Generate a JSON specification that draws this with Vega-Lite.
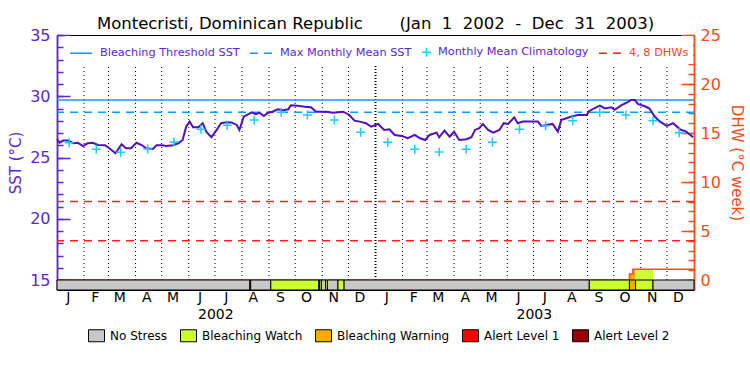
{
  "$schema": "https://vega.github.io/schema/vega-lite/v6.json",
  "width": 637,
  "height": 255,
  "autosize": {"type": "none"},
  "padding": {"left": 57, "top": 35, "right": 56, "bottom": 85},
  "background": "white",
  "title": {"text": "Montecristi, Dominican Republic\u00a0\u00a0\u00a0\u00a0\u00a0\u00a0\u00a0(Jan\u00a0\u00a01\u00a0\u00a02002\u00a0\u00a0-\u00a0\u00a0Dec\u00a0\u00a031\u00a0\u00a02003)", "font": "DejaVu Sans", "fontSize": 16.5, "fontWeight": "normal", "color": "black", "anchor": "middle", "offset": -5},
  "config": {
    "view": {"stroke": "black", "strokeWidth": 1},
    "axis": {"labelFont": "DejaVu Sans", "titleFont": "DejaVu Sans", "grid": false, "labelFlush": false, "labelOverlap": false}
  },
  "datasets": {
    "sst": [
      {"date": "2002-01-01", "sst": 26.49}, {"date": "2002-01-04", "sst": 26.21}, {"date": "2002-01-08", "sst": 26.38}, {"date": "2002-01-14", "sst": 26.38},
      {"date": "2002-01-20", "sst": 26.16}, {"date": "2002-01-25", "sst": 26.2}, {"date": "2002-01-31", "sst": 25.94}, {"date": "2002-02-05", "sst": 26.16},
      {"date": "2002-02-11", "sst": 26.2}, {"date": "2002-02-17", "sst": 26.02}, {"date": "2002-02-25", "sst": 26.0}, {"date": "2002-03-02", "sst": 25.76},
      {"date": "2002-03-09", "sst": 25.35}, {"date": "2002-03-16", "sst": 26.08}, {"date": "2002-03-21", "sst": 25.76}, {"date": "2002-03-27", "sst": 25.76},
      {"date": "2002-04-02", "sst": 26.2}, {"date": "2002-04-08", "sst": 26.02}, {"date": "2002-04-13", "sst": 25.76}, {"date": "2002-04-21", "sst": 25.7},
      {"date": "2002-04-25", "sst": 26.0}, {"date": "2002-05-02", "sst": 26.0}, {"date": "2002-05-06", "sst": 25.94}, {"date": "2002-05-14", "sst": 26.0},
      {"date": "2002-05-20", "sst": 26.16}, {"date": "2002-05-25", "sst": 26.43}, {"date": "2002-05-29", "sst": 27.52}, {"date": "2002-06-02", "sst": 27.93},
      {"date": "2002-06-06", "sst": 27.47}, {"date": "2002-06-12", "sst": 27.47}, {"date": "2002-06-17", "sst": 27.8}, {"date": "2002-06-21", "sst": 27.11},
      {"date": "2002-06-27", "sst": 26.65}, {"date": "2002-07-03", "sst": 27.25}, {"date": "2002-07-08", "sst": 27.8}, {"date": "2002-07-14", "sst": 27.88},
      {"date": "2002-07-20", "sst": 27.86}, {"date": "2002-07-26", "sst": 27.66}, {"date": "2002-07-29", "sst": 27.25}, {"date": "2002-08-03", "sst": 28.34},
      {"date": "2002-08-08", "sst": 28.53}, {"date": "2002-08-12", "sst": 28.69}, {"date": "2002-08-17", "sst": 28.53}, {"date": "2002-08-21", "sst": 28.66},
      {"date": "2002-08-26", "sst": 28.39}, {"date": "2002-08-31", "sst": 28.66}, {"date": "2002-09-05", "sst": 28.74}, {"date": "2002-09-11", "sst": 28.94},
      {"date": "2002-09-17", "sst": 28.85}, {"date": "2002-09-23", "sst": 28.94}, {"date": "2002-09-26", "sst": 29.27}, {"date": "2002-10-04", "sst": 29.22},
      {"date": "2002-10-12", "sst": 29.15}, {"date": "2002-10-19", "sst": 29.1}, {"date": "2002-10-25", "sst": 28.74}, {"date": "2002-11-06", "sst": 28.74},
      {"date": "2002-11-13", "sst": 28.66}, {"date": "2002-11-25", "sst": 28.74}, {"date": "2002-12-02", "sst": 28.47}, {"date": "2002-12-08", "sst": 28.01},
      {"date": "2002-12-14", "sst": 27.93}, {"date": "2002-12-21", "sst": 27.8}, {"date": "2002-12-27", "sst": 27.52}, {"date": "2003-01-04", "sst": 27.74},
      {"date": "2003-01-11", "sst": 27.25}, {"date": "2003-01-17", "sst": 27.3}, {"date": "2003-01-23", "sst": 26.84}, {"date": "2003-01-31", "sst": 26.76},
      {"date": "2003-02-07", "sst": 26.57}, {"date": "2003-02-15", "sst": 26.84}, {"date": "2003-02-21", "sst": 26.57}, {"date": "2003-02-27", "sst": 26.43},
      {"date": "2003-03-04", "sst": 26.84}, {"date": "2003-03-12", "sst": 27.03}, {"date": "2003-03-15", "sst": 26.65}, {"date": "2003-03-21", "sst": 27.2},
      {"date": "2003-03-27", "sst": 26.7}, {"date": "2003-04-01", "sst": 27.1}, {"date": "2003-04-07", "sst": 26.43}, {"date": "2003-04-15", "sst": 26.49},
      {"date": "2003-04-21", "sst": 26.65}, {"date": "2003-04-25", "sst": 27.25}, {"date": "2003-04-30", "sst": 27.39}, {"date": "2003-05-04", "sst": 27.74},
      {"date": "2003-05-10", "sst": 27.25}, {"date": "2003-05-16", "sst": 27.03}, {"date": "2003-05-23", "sst": 27.25}, {"date": "2003-05-28", "sst": 27.8},
      {"date": "2003-06-02", "sst": 27.74}, {"date": "2003-06-09", "sst": 28.28}, {"date": "2003-06-13", "sst": 27.8}, {"date": "2003-06-19", "sst": 27.93},
      {"date": "2003-06-27", "sst": 27.93}, {"date": "2003-07-06", "sst": 27.93}, {"date": "2003-07-10", "sst": 27.58}, {"date": "2003-07-16", "sst": 27.66},
      {"date": "2003-07-23", "sst": 27.74}, {"date": "2003-07-29", "sst": 27.11}, {"date": "2003-08-02", "sst": 28.07}, {"date": "2003-08-08", "sst": 28.2},
      {"date": "2003-08-13", "sst": 28.34}, {"date": "2003-08-21", "sst": 28.47}, {"date": "2003-08-31", "sst": 28.47}, {"date": "2003-09-03", "sst": 28.8},
      {"date": "2003-09-15", "sst": 29.23}, {"date": "2003-09-21", "sst": 29.0}, {"date": "2003-09-28", "sst": 29.1}, {"date": "2003-10-02", "sst": 28.9},
      {"date": "2003-10-10", "sst": 29.27}, {"date": "2003-10-16", "sst": 29.48}, {"date": "2003-10-21", "sst": 29.7}, {"date": "2003-10-25", "sst": 29.7},
      {"date": "2003-10-29", "sst": 29.35}, {"date": "2003-11-05", "sst": 29.2}, {"date": "2003-11-11", "sst": 29.0}, {"date": "2003-11-17", "sst": 28.34},
      {"date": "2003-11-23", "sst": 27.93}, {"date": "2003-12-01", "sst": 27.58}, {"date": "2003-12-08", "sst": 27.8}, {"date": "2003-12-16", "sst": 27.3},
      {"date": "2003-12-23", "sst": 27.11}, {"date": "2003-12-31", "sst": 26.65}
    ],
    "clim": [
      {"date": "2002-01-15", "sst": 26.21}, {"date": "2002-02-15", "sst": 25.67}, {"date": "2002-03-15", "sst": 25.43}, {"date": "2002-04-15", "sst": 25.7},
      {"date": "2002-05-15", "sst": 26.27}, {"date": "2002-06-15", "sst": 27.3}, {"date": "2002-07-15", "sst": 27.63}, {"date": "2002-08-15", "sst": 28.07},
      {"date": "2002-09-15", "sst": 28.69}, {"date": "2002-10-15", "sst": 28.47}, {"date": "2002-11-15", "sst": 28.07}, {"date": "2002-12-15", "sst": 27.06},
      {"date": "2003-01-15", "sst": 26.24}, {"date": "2003-02-15", "sst": 25.67}, {"date": "2003-03-15", "sst": 25.45}, {"date": "2003-04-15", "sst": 25.67},
      {"date": "2003-05-15", "sst": 26.24}, {"date": "2003-06-15", "sst": 27.31}, {"date": "2003-07-15", "sst": 27.6}, {"date": "2003-08-15", "sst": 28.01},
      {"date": "2003-09-15", "sst": 28.69}, {"date": "2003-10-15", "sst": 28.47}, {"date": "2003-11-15", "sst": 28.01}, {"date": "2003-12-15", "sst": 27.03}
    ],
    "months": [
      {"date": "2002-02-01", "kind": "month"}, {"date": "2002-03-01", "kind": "month"}, {"date": "2002-04-01", "kind": "month"}, {"date": "2002-05-01", "kind": "month"},
      {"date": "2002-06-01", "kind": "month"}, {"date": "2002-07-01", "kind": "month"}, {"date": "2002-08-01", "kind": "month"}, {"date": "2002-09-01", "kind": "month"},
      {"date": "2002-10-01", "kind": "month"}, {"date": "2002-11-01", "kind": "month"}, {"date": "2002-12-01", "kind": "month"}, {"date": "2003-01-01", "kind": "year"},
      {"date": "2003-02-01", "kind": "month"}, {"date": "2003-03-01", "kind": "month"}, {"date": "2003-04-01", "kind": "month"}, {"date": "2003-05-01", "kind": "month"},
      {"date": "2003-06-01", "kind": "month"}, {"date": "2003-07-01", "kind": "month"}, {"date": "2003-08-01", "kind": "month"}, {"date": "2003-09-01", "kind": "month"},
      {"date": "2003-10-01", "kind": "month"}, {"date": "2003-11-01", "kind": "month"}, {"date": "2003-12-01", "kind": "month"}
    ],
    "monthlabels": [
      {"date": "2002-01-14", "m": "J"}, {"date": "2002-02-14", "m": "F"}, {"date": "2002-03-14", "m": "M"}, {"date": "2002-04-14", "m": "A"},
      {"date": "2002-05-14", "m": "M"}, {"date": "2002-06-14", "m": "J"}, {"date": "2002-07-14", "m": "J"}, {"date": "2002-08-14", "m": "A"},
      {"date": "2002-09-14", "m": "S"}, {"date": "2002-10-14", "m": "O"}, {"date": "2002-11-14", "m": "N"}, {"date": "2002-12-14", "m": "D"},
      {"date": "2003-01-14", "m": "J"}, {"date": "2003-02-14", "m": "F"}, {"date": "2003-03-14", "m": "M"}, {"date": "2003-04-14", "m": "A"},
      {"date": "2003-05-14", "m": "M"}, {"date": "2003-06-14", "m": "J"}, {"date": "2003-07-14", "m": "J"}, {"date": "2003-08-14", "m": "A"},
      {"date": "2003-09-14", "m": "S"}, {"date": "2003-10-14", "m": "O"}, {"date": "2003-11-14", "m": "N"}, {"date": "2003-12-14", "m": "D"}
    ],
    "years": [
      {"date": "2002-07-02", "year": "2002"},
      {"date": "2003-07-02", "year": "2003"}
    ],
    "refs": [
      {"series": "Bleaching Threshold SST", "value": 29.69},
      {"series": "Max Monthly Mean SST", "value": 28.69}
    ],
    "dhwrefs": [
      {"series": "4, 8 DHWs", "value": 4},
      {"series": "4, 8 DHWs", "value": 8}
    ],
    "alerts": [
      {"start": "2002-01-01", "end": "2002-08-10", "status": "No Stress"},
      {"start": "2002-08-10", "end": "2002-08-11", "status": "No Stress"},
      {"start": "2002-08-11", "end": "2002-09-03", "status": "No Stress"},
      {"start": "2002-09-03", "end": "2002-10-28", "status": "Bleaching Watch"},
      {"start": "2002-10-28", "end": "2002-10-29", "status": "No Stress"},
      {"start": "2002-10-29", "end": "2002-10-31", "status": "Bleaching Watch"},
      {"start": "2002-10-31", "end": "2002-11-05", "status": "No Stress"},
      {"start": "2002-11-05", "end": "2002-11-07", "status": "Bleaching Watch"},
      {"start": "2002-11-07", "end": "2002-11-19", "status": "No Stress"},
      {"start": "2002-11-19", "end": "2002-11-26", "status": "Bleaching Watch"},
      {"start": "2002-11-26", "end": "2003-09-03", "status": "No Stress"},
      {"start": "2003-09-03", "end": "2003-10-19", "status": "Bleaching Watch"},
      {"start": "2003-10-19", "end": "2003-10-26", "status": "Bleaching Warning"},
      {"start": "2003-10-26", "end": "2003-11-15", "status": "Bleaching Watch"},
      {"start": "2003-11-15", "end": "2004-01-01", "status": "No Stress"}
    ],
    "dhw": [
      {"date": "2002-01-01", "dhw": 0},
      {"date": "2003-10-19", "dhw": 0.6},
      {"date": "2003-10-23", "dhw": 1.1},
      {"date": "2004-01-01", "dhw": 1.1}
    ],
    "dhwfill": [
      {"start": "2003-10-19", "end": "2003-10-23", "dhw": 0.6, "status": "Bleaching Warning"},
      {"start": "2003-10-23", "end": "2003-10-26", "dhw": 1.1, "status": "Bleaching Warning"},
      {"start": "2003-10-26", "end": "2003-11-15", "dhw": 1.1, "status": "Bleaching Watch"}
    ]
  },
  "resolve": {"scale": {"y": "independent"}},
  "layer": [
    {
      "resolve": {"axis": {"y": "independent"}},
      "layer": [
        {
          "data": {"name": "months"},
          "transform": [{"filter": "datum.kind == 'month'"}],
          "mark": {"type": "rule", "color": "black", "strokeWidth": 1, "strokeDash": [1, 3]},
          "encoding": {
            "x": {"field": "date", "type": "temporal", "scale": {"type": "utc", "domain": [{"year": 2002, "month": 1, "date": 1, "utc": true}, {"year": 2004, "month": 1, "date": 1, "utc": true}]}, "axis": null},
            "y": {"datum": 15, "scale": {"domain": [14.1837, 35], "nice": false, "zero": false}, "axis": null},
            "y2": {"datum": 35}
          }
        },
        {
          "data": {"name": "months"},
          "transform": [{"filter": "datum.kind == 'year'"}],
          "mark": {"type": "rule", "color": "black", "strokeWidth": 2, "strokeDash": [1, 2]},
          "encoding": {
            "x": {"field": "date", "type": "temporal", "scale": {"type": "utc", "domain": [{"year": 2002, "month": 1, "date": 1, "utc": true}, {"year": 2004, "month": 1, "date": 1, "utc": true}]}, "axis": null},
            "y": {"datum": 15, "scale": {"domain": [14.1837, 35], "nice": false, "zero": false}, "axis": null},
            "y2": {"datum": 35}
          }
        },
        {
          "data": {"name": "monthlabels"},
          "mark": {"type": "text", "font": "DejaVu Sans", "fontSize": 14, "color": "black", "baseline": "middle", "align": "center"},
          "encoding": {
            "x": {"field": "date", "type": "temporal", "scale": {"type": "utc", "domain": [{"year": 2002, "month": 1, "date": 1, "utc": true}, {"year": 2004, "month": 1, "date": 1, "utc": true}]}, "axis": null},
            "y": {"datum": 13.53, "scale": {"domain": [14.1837, 35], "nice": false, "zero": false}, "axis": null},
            "text": {"field": "m"}
          }
        },
        {
          "data": {"name": "years"},
          "mark": {"type": "text", "font": "DejaVu Sans", "fontSize": 14, "color": "black", "baseline": "middle", "align": "center"},
          "encoding": {
            "x": {"field": "date", "type": "temporal", "scale": {"type": "utc", "domain": [{"year": 2002, "month": 1, "date": 1, "utc": true}, {"year": 2004, "month": 1, "date": 1, "utc": true}]}, "axis": null},
            "y": {"datum": 12.14, "scale": {"domain": [14.1837, 35], "nice": false, "zero": false}, "axis": null},
            "text": {"field": "year"}
          }
        },
        {
          "data": {"name": "refs"},
          "transform": [{"filter": "datum.series == 'Bleaching Threshold SST'"}],
          "mark": {"type": "rule", "strokeWidth": 1.5},
          "encoding": {
            "y": {"field": "value", "type": "quantitative", "scale": {"domain": [14.1837, 35], "nice": false, "zero": false},
              "axis": {"orient": "left", "values": [15,16,17,18,19,20,21,22,23,24,25,26,27,28,29,30,31,32,33,34,35], "tickSize": -6, "labels": false, "title": null, "tickColor": "#5a28d2", "domainColor": "#5a28d2", "tickWidth": 1.5, "domainWidth": 1.5}},
            "color": {"field": "series", "type": "nominal",
              "scale": {"domain": ["Bleaching Threshold SST", "Max Monthly Mean SST", "Monthly Mean Climatology", "4, 8 DHWs"], "range": ["#1a96ff", "#1a96ff", "#20c8ff", "#ff2020"]},
              "legend": {
                "orient": "none", "legendX": 9, "legendY": 1, "direction": "horizontal", "title": null, "padding": 4,
                "fillColor": "white", "labelFont": "DejaVu Sans", "labelFontSize": 11.3, "labelColor": "#5a28d2",
                "columnPadding": 7, "labelOffset": 6, "symbolType": "stroke", "symbolSize": 484, "symbolStrokeWidth": 1.5,
                "encode": {
                  "symbols": {"update": {
                    "shape": {"signal": "datum.value === 'Monthly Mean Climatology' ? 'M-1,0L1,0M0,-1L0,1' : 'stroke'"},
                    "size": {"signal": "datum.value === 'Monthly Mean Climatology' ? 81 : 484"},
                    "x": {"signal": "datum.value === 'Monthly Mean Climatology' ? 4.5 : 11"},
                    "strokeDash": {"signal": "(datum.value === 'Max Monthly Mean SST' || datum.value === '4, 8 DHWs') ? [8, 6] : [1, 0]"},
                    "strokeWidth": {"value": 1.5},
                    "fill": {"value": "transparent"},
                    "stroke": {"scale": "color", "field": "value"}
                  }},
                  "labels": {"update": {
                    "fill": {"signal": "datum.value === '4, 8 DHWs' ? '#ff4a1a' : '#5a28d2'"},
                    "dx": {"signal": "datum.value === 'Monthly Mean Climatology' ? -14 : 0"}
                  }}
                }
              }
            }
          }
        },
        {
          "data": {"name": "refs"},
          "transform": [{"filter": "datum.series == 'Max Monthly Mean SST'"}],
          "mark": {"type": "rule", "strokeWidth": 1.5, "strokeDash": [8, 6]},
          "encoding": {
            "y": {"field": "value", "type": "quantitative", "scale": {"domain": [14.1837, 35], "nice": false, "zero": false}, "axis": null},
            "color": {"field": "series", "type": "nominal"}
          }
        },
        {
          "data": {"name": "sst"},
          "mark": {"type": "line", "color": "#5010c0", "strokeWidth": 2},
          "encoding": {
            "x": {"field": "date", "type": "temporal", "scale": {"type": "utc", "domain": [{"year": 2002, "month": 1, "date": 1, "utc": true}, {"year": 2004, "month": 1, "date": 1, "utc": true}]}, "axis": null},
            "y": {"field": "sst", "type": "quantitative", "scale": {"domain": [14.1837, 35], "nice": false, "zero": false},
              "axis": {"orient": "left", "values": [15, 20, 25, 30, 35], "tickSize": -13, "labelPadding": 20, "tickColor": "#5a28d2", "tickWidth": 1.5,
                "domainColor": "#5a28d2", "domainWidth": 1.5, "labelColor": "#5a28d2", "labelFontSize": 16,
                "title": "SST (°C)", "titleColor": "#5a28d2", "titleFontSize": 15, "titleFontWeight": "normal", "titlePadding": 6}}
          }
        },
        {
          "data": {"name": "clim"},
          "transform": [{"calculate": "'Monthly Mean Climatology'", "as": "series"}],
          "mark": {"type": "point", "shape": "M-1,0L1,0M0,-1L0,1", "size": 81, "filled": false, "strokeWidth": 1.5, "opacity": 1},
          "encoding": {
            "x": {"field": "date", "type": "temporal", "scale": {"type": "utc", "domain": [{"year": 2002, "month": 1, "date": 1, "utc": true}, {"year": 2004, "month": 1, "date": 1, "utc": true}]}, "axis": null},
            "y": {"field": "sst", "type": "quantitative", "scale": {"domain": [14.1837, 35], "nice": false, "zero": false}, "axis": null},
            "color": {"field": "series", "type": "nominal"}
          }
        }
      ]
    },
    {
      "resolve": {"axis": {"y": "independent"}},
      "layer": [
        {
          "data": {"name": "dhwrefs"},
          "mark": {"type": "rule", "strokeWidth": 1.5, "strokeDash": [8, 6]},
          "encoding": {
            "y": {"field": "value", "type": "quantitative", "scale": {"domain": [-1.0204, 25], "nice": false, "zero": false},
              "axis": {"orient": "right", "values": [0,1,2,3,4,5,6,7,8,9,10,11,12,13,14,15,16,17,18,19,20,21,22,23,24,25], "tickSize": -6, "labels": false, "title": null, "tickColor": "#ff4a1a", "domainColor": "#ff4a1a", "tickWidth": 1.5, "domainWidth": 1.5}},
            "color": {"field": "series", "type": "nominal"}
          }
        },
        {
          "data": {"name": "dhwfill"},
          "mark": {"type": "rect"},
          "encoding": {
            "x": {"field": "start", "type": "temporal", "scale": {"type": "utc", "domain": [{"year": 2002, "month": 1, "date": 1, "utc": true}, {"year": 2004, "month": 1, "date": 1, "utc": true}]}, "axis": null},
            "x2": {"field": "end"},
            "y": {"field": "dhw", "type": "quantitative", "scale": {"domain": [-1.0204, 25], "nice": false, "zero": false}, "axis": null},
            "y2": {"datum": 0},
            "fill": {"field": "status", "type": "nominal"}
          }
        },
        {
          "data": {"name": "dhw"},
          "mark": {"type": "line", "color": "#ff4a1a", "strokeWidth": 1.5, "interpolate": "step-after"},
          "encoding": {
            "x": {"field": "date", "type": "temporal", "scale": {"type": "utc", "domain": [{"year": 2002, "month": 1, "date": 1, "utc": true}, {"year": 2004, "month": 1, "date": 1, "utc": true}]}, "axis": null},
            "y": {"field": "dhw", "type": "quantitative", "scale": {"domain": [-1.0204, 25], "nice": false, "zero": false},
              "axis": {"orient": "right", "values": [0, 5, 10, 15, 20, 25], "tickSize": -13, "labelPadding": 19, "tickColor": "#ff4a1a", "tickWidth": 1.5,
                "domainColor": "#ff4a1a", "domainWidth": 1.5, "labelColor": "#ff4a1a", "labelFontSize": 16,
                "title": "DHW (°C week)", "titleColor": "#ff4a1a", "titleFontSize": 15, "titleFontWeight": "normal", "titlePadding": 8}}
          }
        },
        {
          "data": {"name": "alerts"},
          "mark": {"type": "rect", "stroke": "black", "strokeWidth": 1},
          "encoding": {
            "x": {"field": "start", "type": "temporal", "scale": {"type": "utc", "domain": [{"year": 2002, "month": 1, "date": 1, "utc": true}, {"year": 2004, "month": 1, "date": 1, "utc": true}]}, "axis": null},
            "x2": {"field": "end"},
            "y": {"datum": 0, "scale": {"domain": [-1.0204, 25], "nice": false, "zero": false}, "axis": null},
            "y2": {"datum": -1.0204},
            "fill": {"field": "status", "type": "nominal",
              "scale": {"domain": ["No Stress", "Bleaching Watch", "Bleaching Warning", "Alert Level 1", "Alert Level 2"], "range": ["#c8c8c8", "#ccff33", "#ffaa00", "#ff0000", "#990000"]},
              "legend": {"orient": "none", "legendX": 31, "legendY": 292, "padding": 0, "direction": "horizontal", "title": null, "labelFont": "DejaVu Sans", "labelFontSize": 12, "labelColor": "black",
                "symbolType": "M-1,-0.75H1V0.75H-1Z", "symbolSize": 256, "symbolStrokeColor": "black", "symbolStrokeWidth": 1, "symbolOpacity": 1,
                "columnPadding": 10, "labelOffset": 5}
            }
          }
        }
      ]
    }
  ]
}
